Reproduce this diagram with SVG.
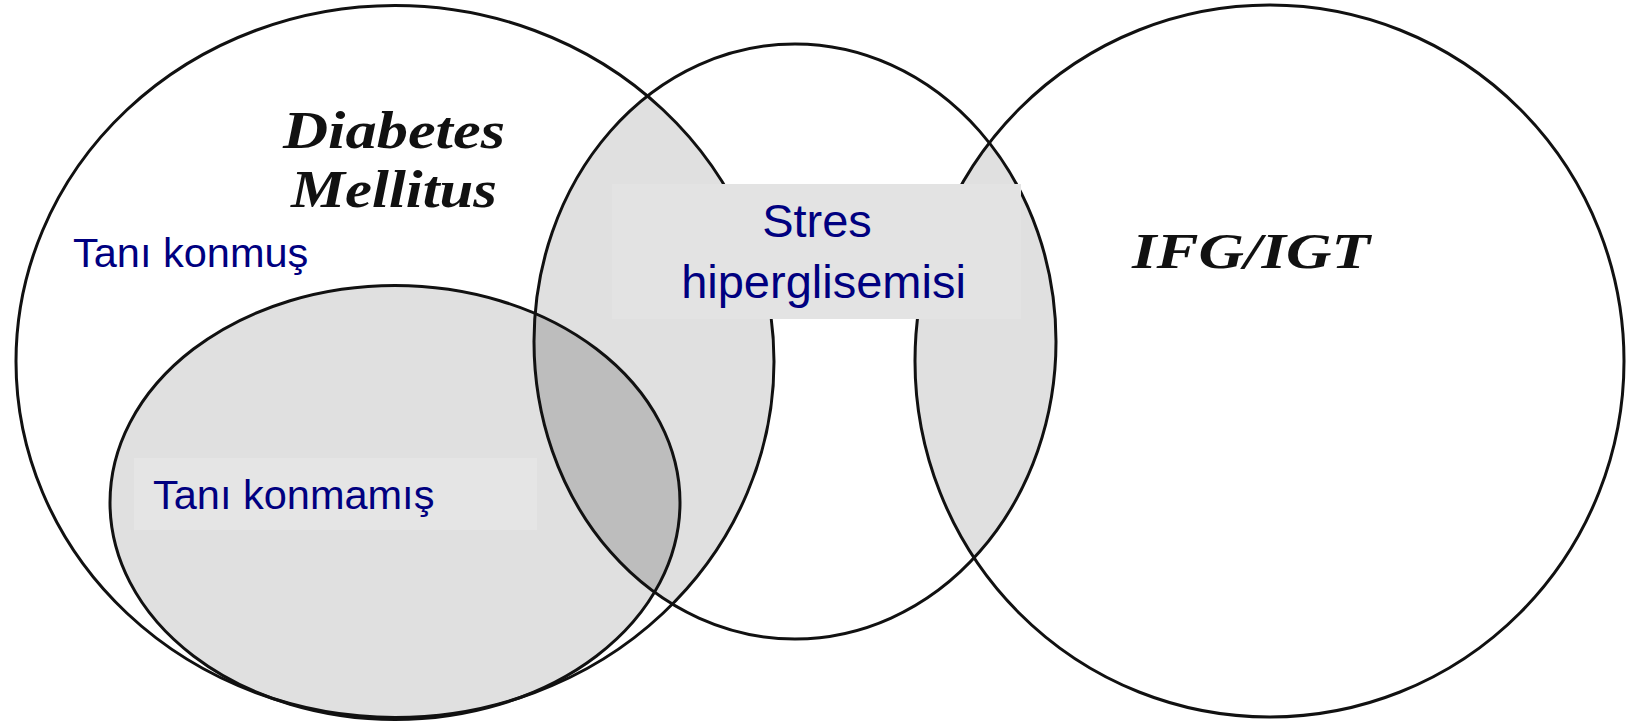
<svg xmlns="http://www.w3.org/2000/svg" width="1628" height="723" viewBox="0 0 1628 723">
  <style>
    .ring { fill: none; stroke: #111; stroke-width: 3; }
    .shade { fill: #e0e0e0; }
    .dark { fill: #bdbdbd; }
    .lbl { font-family: "Liberation Sans", Arial, sans-serif; fill: #000080; }
    .ttl { font-family: "Liberation Serif", "Times New Roman", serif; font-weight: bold; font-style: italic; fill: #111; }
  </style>
  <defs>
    <ellipse id="c1" cx="395" cy="361.5" rx="379" ry="356"/>
    <ellipse id="c2" cx="795" cy="341.5" rx="261" ry="297.5"/>
    <ellipse id="c3" cx="1269.5" cy="361" rx="354.5" ry="356"/>
    <ellipse id="c4" cx="395" cy="502.5" rx="285" ry="217"/>
    <clipPath id="clip1"><use href="#c1"/></clipPath>
    <clipPath id="clip2"><use href="#c2"/></clipPath>
    <clipPath id="clip3"><use href="#c3"/></clipPath>
  </defs>
  <rect width="1628" height="723" fill="#fff"/>

  <g id="shading">
    <use href="#c4" class="shade"/>
    <use href="#c2" class="shade" clip-path="url(#clip1)"/>
    <use href="#c2" class="shade" clip-path="url(#clip3)"/>
    <use href="#c4" class="dark" clip-path="url(#clip2)"/>
  </g>

  <g id="diabetes-mellitus">
    <use href="#c1" class="ring"/>
    <text class="ttl" x="394" y="148" font-size="53" text-anchor="middle" textLength="222" lengthAdjust="spacingAndGlyphs">Diabetes</text>
    <text class="ttl" x="394" y="207" font-size="53" text-anchor="middle" textLength="206" lengthAdjust="spacingAndGlyphs">Mellitus</text>
  </g>

  <g id="stres-hiperglisemisi">
    <use href="#c2" class="ring"/>
  </g>

  <g id="ifg-igt">
    <use href="#c3" class="ring"/>
    <text class="ttl" x="1251" y="268" font-size="50" text-anchor="middle" textLength="238" lengthAdjust="spacingAndGlyphs">IFG/IGT</text>
  </g>

  <g id="tani-konmamis">
    <use href="#c4" class="ring"/>
    <rect x="134" y="458" width="403" height="72" fill="#e5e5e5"/>
    <text class="lbl" x="153" y="509" font-size="41.5">Tanı konmamış</text>
  </g>

  <g id="tani-konmus">
    <rect x="53" y="215" width="299" height="70" fill="#fff"/>
    <text class="lbl" x="73" y="267" font-size="41.5">Tanı konmuş</text>
  </g>

  <g id="stres-label">
    <rect x="612" y="184" width="409" height="135" fill="#e3e3e3"/>
    <text class="lbl" x="817" y="237" font-size="47" text-anchor="middle">Stres</text>
    <text class="lbl" x="823.5" y="298" font-size="47" text-anchor="middle">hiperglisemisi</text>
  </g>
</svg>
